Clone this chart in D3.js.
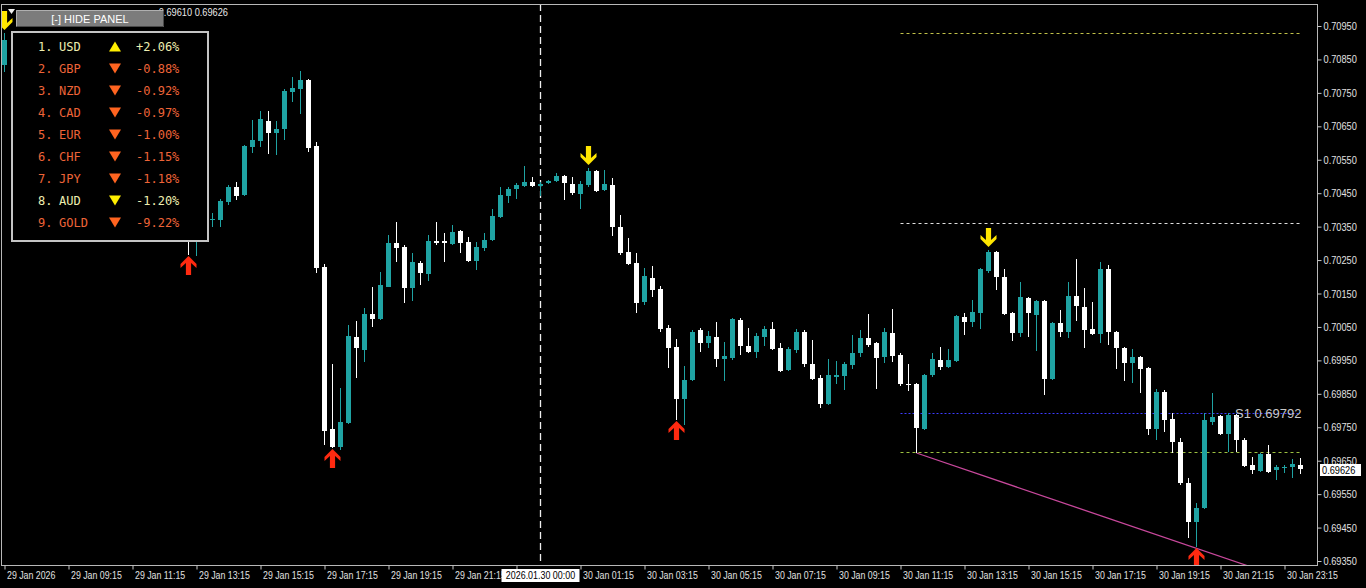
<!DOCTYPE html>
<html><head><meta charset="utf-8">
<script src="https://cdn.jsdelivr.net/npm/d3@7"></script>
<style>
html,body{margin:0;padding:0;background:#000;overflow:hidden}
svg{display:block}
</style></head>
<body>
<svg id="c" width="1366" height="588"></svg>
<script>
// ---------------- DATA ----------------
const symbol = "AUDUSD,M15";
const barIndex = [0,23,24,25,26,27,28,29,30,31,32,33,34,35,36,37,38,39,40,41,42,43,44,45,46,47,48,49,50,
51,52,53,54,55,56,57,58,59,60,61,62,63,64,65,66,67,68,69,70,71,72,73,74,75,76,77,78,79,80,
81,82,83,84,85,86,87,88,89,90,91,92,93,94,95,96,97,98,99,100,101,102,103,104,105,106,107,108,109,110,
111,112,113,114,115,116,117,118,119,120,121,122,123,124,125,126,127,128,129,130,131,132,133,134,135,136,137,138,139,140,
141,142,143,144,145,146,147,148,149,150,151,152,153,154,155,156,157,158,159,160,161,162];
const open = [0.70833,0.70345,0.70320,0.70340,0.70370,0.70370,0.70424,0.70469,0.70445,0.70588,0.70606,0.70666,0.70630,0.70642,0.70753,0.70762,0.70789,0.70591,0.70229,0.69745,0.69691,0.69763,0.70020,0.69981,0.70089,0.70074,0.70170,0.70301,0.70289,
0.70167,0.70241,0.70208,0.70307,0.70307,0.70298,0.70337,0.70304,0.70247,0.70286,0.70310,0.70379,0.70442,0.70463,0.70472,0.70483,0.70472,0.70480,0.70486,0.70501,0.70478,0.70447,0.70475,0.70516,0.70460,0.70475,0.70349,0.70274,0.70241,0.70125,
0.70196,0.70164,0.70047,0.69990,0.69835,0.69891,0.70041,0.70002,0.70020,0.69954,0.69957,0.70071,0.69993,0.69975,0.70020,0.70044,0.69987,0.69921,0.69981,0.70035,0.69939,0.69897,0.69820,0.69900,0.69903,0.69936,0.69972,0.70017,0.70002,0.69960,
0.70032,0.69966,0.69880,0.69880,0.69745,0.69906,0.69951,0.69930,0.69948,0.70080,0.70065,0.70092,0.70217,0.70274,0.70199,0.70092,0.70032,0.70137,0.70086,0.70128,0.69894,0.70062,0.70035,0.70143,0.70110,0.70044,0.70029,0.70223,0.70035,0.69987,
0.69942,0.69960,0.69927,0.69745,0.69856,0.69775,0.69706,0.69584,0.69467,0.69509,0.69766,0.69784,0.69730,0.69787,0.69712,0.69637,0.69619,0.69670,0.69622,0.69628,0.69631,0.69637];
const high = [0.70929,0.70370,0.70355,0.70360,0.70391,0.70433,0.70475,0.70483,0.70594,0.70669,0.70696,0.70696,0.70666,0.70762,0.70797,0.70815,0.70792,0.70603,0.70238,0.69939,0.69868,0.70056,0.70068,0.70107,0.70170,0.70214,0.70325,0.70364,0.70295,
0.70271,0.70247,0.70325,0.70364,0.70331,0.70355,0.70340,0.70319,0.70304,0.70331,0.70403,0.70469,0.70469,0.70481,0.70531,0.70498,0.70483,0.70489,0.70510,0.70504,0.70498,0.70486,0.70525,0.70519,0.70519,0.70495,0.70385,0.70316,0.70271,0.70226,
0.70232,0.70173,0.70056,0.70014,0.69933,0.70041,0.70047,0.70038,0.70065,0.70005,0.70077,0.70077,0.70047,0.70032,0.70053,0.70065,0.70002,0.69990,0.70044,0.70041,0.70011,0.69906,0.69954,0.69948,0.69945,0.70026,0.70041,0.70089,0.70005,0.70047,
0.70104,0.69972,0.69939,0.69883,0.69909,0.69972,0.69990,0.69984,0.70086,0.70092,0.70131,0.70226,0.70280,0.70277,0.70223,0.70095,0.70185,0.70140,0.70131,0.70131,0.70065,0.70101,0.70185,0.70253,0.70167,0.70125,0.70244,0.70235,0.70038,0.69990,
0.69984,0.69963,0.69930,0.69865,0.69862,0.69793,0.69718,0.69599,0.69524,0.69793,0.69853,0.69787,0.69793,0.69790,0.69718,0.69661,0.69673,0.69697,0.69637,0.69637,0.69655,0.69658];
const low = [0.70812,0.70265,0.70262,0.70315,0.70349,0.70349,0.70415,0.70430,0.70442,0.70570,0.70588,0.70567,0.70564,0.70609,0.70723,0.70687,0.70573,0.70211,0.69697,0.69688,0.69682,0.69760,0.69897,0.69945,0.70050,0.70072,0.70168,0.70244,0.70122,
0.70128,0.70176,0.70188,0.70295,0.70244,0.70295,0.70271,0.70244,0.70220,0.70277,0.70307,0.70376,0.70421,0.70433,0.70470,0.70469,0.70442,0.70478,0.70484,0.70430,0.70445,0.70403,0.70469,0.70454,0.70458,0.70322,0.70265,0.70235,0.70092,0.70116,
0.70140,0.70035,0.69927,0.69772,0.69757,0.69888,0.69975,0.69987,0.69930,0.69888,0.69951,0.69966,0.69972,0.69957,0.69993,0.69981,0.69915,0.69918,0.69972,0.69930,0.69891,0.69808,0.69817,0.69879,0.69862,0.69924,0.69960,0.69990,0.69865,0.69942,
0.69945,0.69874,0.69859,0.69673,0.69742,0.69900,0.69921,0.69928,0.69945,0.70026,0.70050,0.70044,0.70211,0.70161,0.70086,0.70008,0.70020,0.70020,0.69978,0.69847,0.69891,0.70020,0.70017,0.70068,0.69987,0.70026,0.70002,0.69996,0.69924,0.69888,
0.69882,0.69853,0.69727,0.69712,0.69736,0.69673,0.69578,0.69419,0.69392,0.69506,0.69757,0.69727,0.69676,0.69676,0.69631,0.69610,0.69616,0.69613,0.69592,0.69613,0.69598,0.69610];
const close = [0.70908,0.70320,0.70340,0.70330,0.70372,0.70427,0.70469,0.70442,0.70591,0.70609,0.70672,0.70630,0.70642,0.70756,0.70765,0.70789,0.70585,0.70226,0.69739,0.69691,0.69766,0.70023,0.69987,0.70089,0.70074,0.70176,0.70301,0.70286,0.70167,
0.70244,0.70211,0.70307,0.70301,0.70301,0.70334,0.70301,0.70247,0.70289,0.70310,0.70382,0.70445,0.70463,0.70475,0.70483,0.70472,0.70478,0.70486,0.70501,0.70480,0.70451,0.70478,0.70516,0.70457,0.70478,0.70349,0.70271,0.70238,0.70122,0.70202,
0.70161,0.70044,0.69987,0.69835,0.69891,0.70035,0.70002,0.70023,0.69954,0.69963,0.70074,0.69993,0.69975,0.70023,0.70044,0.69984,0.69918,0.69984,0.70035,0.69939,0.69894,0.69820,0.69906,0.69906,0.69939,0.69972,0.70017,0.69996,0.69957,0.70035,
0.69963,0.69880,0.69877,0.69748,0.69906,0.69954,0.69930,0.69951,0.70083,0.70065,0.70095,0.70223,0.70274,0.70199,0.70089,0.70032,0.70140,0.70092,0.70128,0.69894,0.70062,0.70035,0.70143,0.70113,0.70041,0.70029,0.70223,0.70035,0.69987,0.69942,
0.69960,0.69924,0.69745,0.69856,0.69772,0.69706,0.69584,0.69467,0.69509,0.69772,0.69781,0.69730,0.69787,0.69712,0.69634,0.69622,0.69670,0.69616,0.69631,0.69631,0.69640,0.69626];

const priceTicks = [0.69350,0.69450,0.69550,0.69650,0.69750,0.69850,0.69950,0.70050,0.70150,0.70250,0.70350,0.70450,0.70550,0.70650,0.70750,0.70850,0.70950];
const timeTickIdx = [0,8,16,24,32,40,48,56,64,72,80,88,96,104,112,120,128,136,144,152,160];
// the 23:15 label sits fully under the separator date box, as in the reference
const timeTickLabels = ["29 Jan 2026","29 Jan 09:15","29 Jan 11:15","29 Jan 13:15","29 Jan 15:15","29 Jan 17:15","29 Jan 19:15","29 Jan 21:15","",
"30 Jan 01:15","30 Jan 03:15","30 Jan 05:15","30 Jan 07:15","30 Jan 09:15","30 Jan 11:15","30 Jan 13:15","30 Jan 15:15","30 Jan 17:15","30 Jan 19:15","30 Jan 21:15","30 Jan 23:15"];
const separatorIdx = 67;
const separatorLabel = "2026.01.30 00:00";

const upArrowIdx = [23,41,84,149];
const downArrowIdx = [0,73,123];

const levelPrices = [0.70928,0.70362,0.69792,0.69675];
const levelStartIdx = 112, levelEndIdx = 162;
const s1Label = "S1 0.69792";
const trendIdx = [114,155.5];
const trendPrice = [0.69673,0.69335];

const panelRank = ["1.","2.","3.","4.","5.","6.","7.","8.","9."];
const panelCcy = ["USD","GBP","NZD","CAD","EUR","CHF","JPY","AUD","GOLD"];
const panelChange = ["+2.06%","-0.88%","-0.92%","-0.97%","-1.00%","-1.15%","-1.18%","-1.20%","-9.22%"];
const panelUp = [true,false,false,false,false,false,false,false,false];
const panelHighlight = [true,false,false,false,false,false,false,true,false];

// ---------------- DRAW ----------------
const svg = d3.select("#c");
const W = 1366, H = 588;
const frame = {l:1, t:4, r:1318, b:566};
const x = d3.scaleLinear().domain([0,162]).range([4.5,1300.5]);
const y = d3.scaleLinear().domain([0.69350,0.70950]).range([561,26]);
const f5 = d3.format(".5f");
const sansFont = "Liberation Sans, Arial, sans-serif";

svg.append("rect").attr("width",W).attr("height",H).attr("fill","#000");

svg.append("defs").append("clipPath").attr("id","clip")
  .append("rect").attr("x",frame.l).attr("y",frame.t).attr("width",frame.r-frame.l).attr("height",frame.b-frame.t);

const plot = svg.append("g").attr("clip-path","url(#clip)");

// separator line
plot.append("line").attr("x1",x(separatorIdx)).attr("x2",x(separatorIdx))
  .attr("y1",frame.t).attr("y2",frame.b).attr("stroke","#eeeeee").attr("stroke-width",1.3).attr("stroke-dasharray","7,4");

// levels
const levelColors = ["#c0c048","#e0e0e0","#3c3cff","#9cc040"];
const levelDash = ["3,3","3,3","2,2","3,3"];
levelPrices.forEach((p,k)=>{
  plot.append("line").attr("x1",x(levelStartIdx)).attr("x2",x(levelEndIdx))
    .attr("y1",Math.round(y(p))+0.5).attr("y2",Math.round(y(p))+0.5)
    .attr("stroke",levelColors[k]).attr("stroke-width",1).attr("stroke-dasharray",levelDash[k]);
});

// trendline
plot.append("line").attr("x1",x(trendIdx[0])).attr("y1",y(trendPrice[0]))
  .attr("x2",x(trendIdx[1])).attr("y2",y(trendPrice[1]))
  .attr("stroke","#c8489c").attr("stroke-width",1.3);

// candles
const bull = "#1fa3a3", bear = "#ffffff";
const candles = barIndex.map((b,k)=>({i:b,o:open[k],h:high[k],l:low[k],c:close[k]}));
const cg = plot.append("g");
candles.forEach(d=>{
  const cx = Math.floor(x(d.i));
  const col = d.c >= d.o ? bull : bear;
  const yh = Math.round(y(d.h)), yl = Math.round(y(d.l));
  cg.append("rect").attr("x",cx).attr("y",yh).attr("width",1).attr("height",Math.max(1,yl-yh)).attr("fill",col);
  const y1 = Math.round(y(Math.max(d.o,d.c))), y2 = Math.round(y(Math.min(d.o,d.c)));
  cg.append("rect").attr("x",cx-2).attr("y",y1).attr("width",5).attr("height",Math.max(1,y2-y1)).attr("fill",col);
});

// arrows
const upPath = "M0,0 L8,8 L8,12 L2.6,7 L2.6,19 L-2.6,19 L-2.6,7 L-8,12 L-8,8 Z";
const byIdx = new Map(candles.map(d=>[d.i,d]));
upArrowIdx.forEach(i=>{
  const d = byIdx.get(i);
  plot.append("path").attr("d",upPath).attr("fill","#ff2a10")
    .attr("transform",`translate(${Math.floor(x(i))+0.5},${y(d.l)+1})`);
});
downArrowIdx.forEach(i=>{
  const d = byIdx.get(i);
  plot.append("path").attr("d",upPath).attr("fill","#ffe600")
    .attr("transform",`translate(${Math.floor(x(i))+0.5},${y(d.h)-3}) scale(1,-1)`);
});

// S1 label
plot.append("text").attr("x",x(154)-1.5).attr("y",y(levelPrices[2])+5)
  .attr("fill","#c8c8c8").attr("font-family",sansFont).attr("font-size",13).text(s1Label);

// frame
svg.append("rect").attr("x",frame.l+0.5).attr("y",frame.t+0.5).attr("width",frame.r-frame.l-1).attr("height",frame.b-frame.t-1)
  .attr("fill","none").attr("stroke","#b8b8b8").attr("stroke-width",1);

// right axis
const yAxis = d3.axisRight(y).tickValues(priceTicks).tickSize(4).tickPadding(2).tickFormat(f5);
const ya = svg.append("g").attr("transform",`translate(${frame.r-0.5},0)`).call(yAxis);
ya.select(".domain").remove();
ya.selectAll(".tick line").attr("stroke","#c8c8c8");
ya.selectAll(".tick text").attr("fill","#e0e0e0").attr("font-family",sansFont)
  .attr("font-size",11).attr("x",0).attr("transform","translate(6,0) scale(0.84,1)");

// current price label
const last = candles[candles.length-1];
const cpY = Math.round(y(last.c));
svg.append("rect").attr("x",1320).attr("y",cpY-5).attr("width",41).attr("height",12).attr("fill","#ffffff");
svg.append("text").attr("x",1322).attr("y",cpY+5).attr("fill","#000").attr("font-family",sansFont)
  .attr("font-size",11).attr("transform",`translate(${1322*0.16},0) scale(0.84,1)`).text(f5(last.c));

// bottom axis
const xAxis = d3.axisBottom(x).tickValues(timeTickIdx).tickSize(4).tickFormat((d,k)=>timeTickLabels[k]);
const xa = svg.append("g").attr("transform",`translate(0,${frame.b-0.5})`).call(xAxis);
xa.select(".domain").remove();
xa.selectAll(".tick line").attr("stroke","#c8c8c8");
xa.selectAll(".tick text").attr("fill","#e0e0e0").attr("font-family",sansFont)
  .attr("font-size",11).attr("text-anchor","start").attr("x",0).attr("y",6).attr("dy","0.71em")
  .attr("transform","translate(2,0) scale(0.8,1)");

// separator label on time axis
const sx = x(separatorIdx);
svg.append("rect").attr("x",sx-39).attr("y",569).attr("width",78).attr("height",13).attr("fill","#fff");
svg.append("text").attr("x",sx).attr("y",579.5).attr("text-anchor","middle").attr("fill","#000")
  .attr("font-family",sansFont).attr("font-size",11)
  .attr("transform",`translate(${sx*0.19},0) scale(0.81,1)`).text(separatorLabel);

// header text (only its tail shows to the right of the button)
svg.append("text").attr("x",228).attr("y",16).attr("text-anchor","end").attr("fill","#e8e8e8")
  .attr("font-family",sansFont).attr("font-size",11)
  .attr("transform",`translate(${228*0.16},0) scale(0.84,1)`)
  .text(`${f5(last.l)} ${f5(last.c)}`);
svg.append("path").attr("d","M8,9 L15,9 L11.5,14 Z").attr("fill","#f0f0f0");

// panel
const panel = svg.append("g");
panel.append("rect").attr("x",12).attr("y",32).attr("width",196).attr("height",209)
  .attr("fill","#000").attr("stroke","#c4c4c4").attr("stroke-width",2);
// button
panel.append("rect").attr("x",16).attr("y",10).attr("width",148).attr("height",17).attr("fill","#7c7c7c");
panel.append("path").attr("d","M16.5,26.5 L16.5,10.5 L163.5,10.5").attr("fill","none").attr("stroke","#b0b0b0");
panel.append("path").attr("d","M16.5,26.5 L163.5,26.5 L163.5,10.5").attr("fill","none").attr("stroke","#4a4a4a");
panel.append("text").attr("x",90).attr("y",22.5).attr("text-anchor","middle").attr("fill","#ffffff")
  .attr("font-family",sansFont).attr("font-size",11).text("[-] HIDE PANEL");

const rowY = d3.scalePoint().domain(d3.range(panelCcy.length)).range([46.5,222.5]);
panelCcy.forEach((c,k)=>{
  const cy = rowY(k);
  const txtCol = panelHighlight[k] ? "#eeeeb0" : "#ee6438";
  const triCol = panelHighlight[k] ? "#ffee00" : "#ff6420";
  const t = panel.append("g").attr("font-family","DejaVu Sans Mono, Liberation Mono, monospace").attr("font-size",12).attr("fill",txtCol);
  t.append("text").attr("x",38).attr("y",cy+4.5).text(panelRank[k]);
  t.append("text").attr("x",59).attr("y",cy+4.5).text(c);
  t.append("text").attr("x",136).attr("y",cy+4.5).text(panelChange[k]);
  const tri = panelUp[k] ? `M115,${cy-5} L121,${cy+5} L109,${cy+5} Z` : `M109,${cy-5} L121,${cy-5} L115,${cy+5} Z`;
  panel.append("path").attr("d",tri).attr("fill",triCol);
});
</script>
</body></html>
